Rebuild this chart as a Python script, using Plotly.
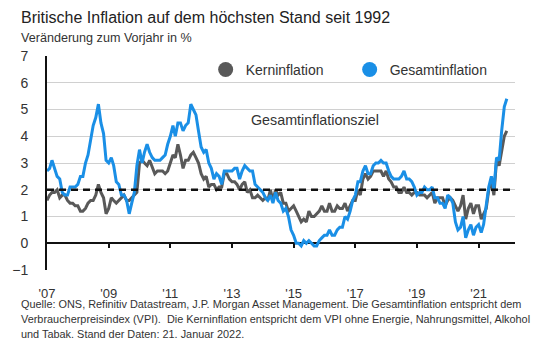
import pandas as pd
import plotly.graph_objects as go

# Monthly year-on-year rates, Jan 2007 - Dec 2021
months = pd.date_range("2007-01-01", periods=180, freq="MS")

kerninflation = [
    1.6, 1.8, 1.9, 1.9, 2.0, 1.7, 1.8, 1.8, 1.6, 1.5, 1.5, 1.4,  # 2007
    1.4, 1.2, 1.2, 1.3, 1.5, 1.6, 1.6, 1.8, 2.2, 1.9, 1.7, 1.1,  # 2008
    1.3, 1.7, 1.6, 1.5, 1.6, 1.7, 1.8, 1.6, 1.6, 1.7, 1.8, 1.9,  # 2009
    3.0, 3.1, 3.0, 2.9, 3.1, 2.8, 2.6, 2.7, 2.7, 2.7, 2.6, 2.7,  # 2010
    3.0, 3.3, 3.2, 3.7, 3.3, 2.8, 3.1, 3.1, 3.3, 3.4, 3.2, 3.0,  # 2011
    2.6, 2.4, 2.5, 2.1, 2.2, 2.2, 2.0, 2.1, 2.1, 2.6, 2.6, 2.4,  # 2012
    2.3, 2.3, 2.2, 2.0, 2.2, 2.3, 1.9, 2.0, 1.7, 1.7, 1.8, 1.7,  # 2013
    1.6, 1.7, 1.6, 2.0, 1.6, 2.0, 1.8, 1.9, 1.5, 1.5, 1.2, 1.3,  # 2014
    1.4, 1.2, 1.0, 0.8, 0.9, 0.8, 1.2, 1.0, 1.0, 1.1, 1.2, 1.4,  # 2015
    1.2, 1.2, 1.5, 1.2, 1.2, 1.4, 1.3, 1.3, 1.5, 1.2, 1.4, 1.6,  # 2016
    1.6, 2.0, 1.8, 2.4, 2.6, 2.4, 2.5, 2.7, 2.7, 2.7, 2.7, 2.5,  # 2017
    2.7, 2.4, 2.3, 2.1, 2.1, 1.9, 1.9, 2.1, 1.9, 1.9, 1.8, 1.9,  # 2018
    1.9, 1.8, 1.8, 1.8, 1.7, 1.8, 1.9, 1.5, 1.7, 1.7, 1.7, 1.4,  # 2019
    1.6, 1.7, 1.6, 1.4, 1.2, 1.4, 1.8, 0.9, 1.3, 1.5, 1.1, 1.4,  # 2020
    1.4, 0.9, 1.1, 1.3, 2.0, 2.3, 1.8, 3.1, 2.9, 3.4, 4.0, 4.2,  # 2021
]

gesamtinflation = [
    2.7, 2.8, 3.1, 2.8, 2.5, 2.4, 1.9, 1.8, 1.8, 2.1, 2.1, 2.1,  # 2007
    2.2, 2.5, 2.5, 3.0, 3.3, 3.8, 4.4, 4.7, 5.2, 4.5, 4.1, 3.1,  # 2008
    3.0, 3.2, 2.9, 2.3, 2.2, 1.8, 1.8, 1.6, 1.1, 1.5, 1.9, 2.9,  # 2009
    3.5, 3.0, 3.4, 3.7, 3.4, 3.2, 3.1, 3.1, 3.1, 3.2, 3.3, 3.7,  # 2010
    4.0, 4.4, 4.0, 4.5, 4.5, 4.2, 4.4, 4.5, 5.2, 5.0, 4.8, 4.2,  # 2011
    3.6, 3.4, 3.5, 3.0, 2.8, 2.4, 2.6, 2.5, 2.2, 2.7, 2.7, 2.7,  # 2012
    2.7, 2.8, 2.8, 2.4, 2.7, 2.9, 2.8, 2.7, 2.7, 2.2, 2.1, 2.0,  # 2013
    1.9, 1.7, 1.6, 1.8, 1.5, 1.9, 1.6, 1.5, 1.2, 1.3, 1.0, 0.5,  # 2014
    0.3, 0.0, 0.0, -0.1, 0.1, 0.0, 0.1, 0.0, -0.1, -0.1, 0.1, 0.2,  # 2015
    0.3, 0.3, 0.5, 0.3, 0.3, 0.5, 0.6, 0.6, 1.0, 0.9, 1.2, 1.6,  # 2016
    1.8, 2.3, 2.3, 2.7, 2.9, 2.6, 2.6, 2.9, 3.0, 3.0, 3.1, 3.0,  # 2017
    3.0, 2.7, 2.5, 2.4, 2.4, 2.4, 2.5, 2.7, 2.4, 2.4, 2.3, 2.1,  # 2018
    1.8, 1.9, 1.9, 2.1, 2.0, 2.0, 2.1, 1.7, 1.7, 1.5, 1.5, 1.3,  # 2019
    1.8, 1.7, 1.5, 0.8, 0.5, 0.6, 1.0, 0.2, 0.5, 0.7, 0.3, 0.6,  # 2020
    0.7, 0.4, 0.7, 1.5, 2.1, 2.5, 2.0, 3.2, 3.1, 4.2, 5.1, 5.4,  # 2021
]

ZIEL = 2.0
tick_years = ["2007", "2009", "2011", "2013", "2015", "2017", "2019", "2021"]
tick_labels = ["'07", "'09", "'11", "'13", "'15", "'17", "'19", "'21"]
y_ticks = [-1, 0, 1, 2, 3, 4, 5, 6, 7]

GRAY = "#595959"
BLUE = "#1a8fe6"
TEXT = "#333333"
FONT = "Liberation Sans"
x_range = ["2007-01-01", "2022-03-08"]
y_range = [-1, 7]
LEFT = -0.060  # text column start, in plot-area fractions

fig = go.Figure()

fig.add_trace(go.Scatter(x=months, y=kerninflation, mode="lines",
                         line=dict(color=GRAY, width=3), showlegend=False,
                         hoverinfo="skip"))
fig.add_trace(go.Scatter(x=months, y=gesamtinflation, mode="lines",
                         line=dict(color=BLUE, width=3), showlegend=False,
                         hoverinfo="skip"))

# legend entries shown as round dots
fig.add_trace(go.Scatter(x=[None], y=[None], mode="markers", name="Kerninflation",
                         marker=dict(color=GRAY, size=15)))
fig.add_trace(go.Scatter(x=[None], y=[None], mode="markers", name="Gesamtinflation",
                         marker=dict(color=BLUE, size=15)))

# carrier for the tick axis sitting on the zero line
fig.add_trace(go.Scatter(x=[months[0]], y=[None], xaxis="x2", showlegend=False,
                         hoverinfo="skip"))

# inflation target
fig.add_shape(type="line", xref="paper", x0=0, x1=1, yref="y", y0=ZIEL, y1=ZIEL,
              line=dict(color="#111111", width=2.5, dash="7px,5px"), layer="above")

fig.add_annotation(text="Gesamtinflationsziel", xref="paper", x=0.572, yref="y", y=4.6,
                   showarrow=False, font=dict(family=FONT, size=14.3, color=TEXT))

fig.add_annotation(text="Britische Inflation auf dem höchsten Stand seit 1992",
                   xref="paper", yref="paper", x=LEFT, y=1.178, xanchor="left", yanchor="middle",
                   showarrow=False, font=dict(family=FONT, size=16, color="#222222"))
fig.add_annotation(text="Veränderung zum Vorjahr in %",
                   xref="paper", yref="paper", x=LEFT, y=1.084, xanchor="left", yanchor="middle",
                   showarrow=False, font=dict(family=FONT, size=12.6, color=TEXT))

footnote = [
    "Quelle: ONS, Refinitiv Datastream, J.P. Morgan Asset Management. Die Gesamtinflation entspricht dem",
    "Verbraucherpreisindex (VPI).  Die Kerninflation entspricht dem VPI ohne Energie, Nahrungsmittel, Alkohol",
    "und Tabak. Stand der Daten: 21. Januar 2022.",
]
for i, line in enumerate(footnote):
    fig.add_annotation(text=line, xref="paper", yref="paper", x=LEFT, y=-0.157 - i * 0.07,
                       xanchor="left", yanchor="middle", showarrow=False,
                       font=dict(family=FONT, size=10.9, color=TEXT))

fig.update_layout(
    width=560, height=345,
    margin=dict(l=37, r=45, t=56, b=75),
    paper_bgcolor="white", plot_bgcolor="white",
    font=dict(family=FONT, color=TEXT),
    legend=dict(orientation="h", x=0.339, y=0.935, xanchor="left", yanchor="middle",
                font=dict(family=FONT, size=14, color=TEXT), bgcolor="rgba(0,0,0,0)",
                entrywidth=99, itemwidth=30),
    xaxis=dict(type="date", range=x_range, tickvals=tick_years, ticktext=tick_labels,
               showgrid=False, zeroline=False, showline=False,
               ticks="", ticklabelstandoff=14,
               tickfont=dict(family=FONT, size=13, color=TEXT)),
    xaxis2=dict(type="date", range=x_range, tickvals=tick_years[1:], overlaying="x",
                anchor="free", position=0.125, showticklabels=False, showgrid=False,
                zeroline=False, showline=False, ticks="outside", ticklen=4,
                tickwidth=2, tickcolor="#111111"),
    yaxis=dict(range=y_range, tickvals=y_ticks, showgrid=True, gridcolor="#d0d0d0",
               gridwidth=1, zeroline=True, zerolinecolor="#111111", zerolinewidth=2,
               showline=True, linecolor="#111111", linewidth=2,
               ticks="", ticklabelstandoff=14,
               tickfont=dict(family=FONT, size=14, color=TEXT)),
)

fig.write_html("out.html")
